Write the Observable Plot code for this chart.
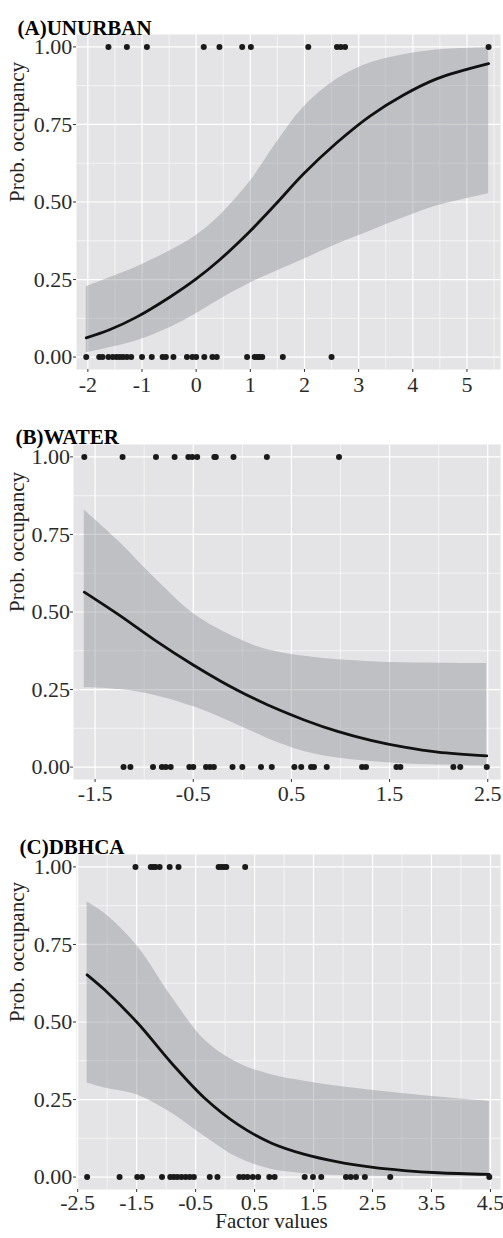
<!DOCTYPE html>
<html><head><meta charset="utf-8">
<script src="https://cdn.jsdelivr.net/npm/d3@7"></script>
<script src="https://cdn.jsdelivr.net/npm/@observablehq/plot@0.6"></script>
<style>
body{margin:0;background:#fff;}
#chart svg{display:block;}
</style></head><body><div id="chart"></div>
<script>
// ---- Panel A: UNURBAN ----
const A_x   = [-2.03, -1.60, -1.11, -0.49, 0.00, 0.43, 0.99, 1.48, 1.98, 2.59, 3.21, 3.83, 4.44, 5.40];
const A_fit = [0.062, 0.088, 0.128, 0.193, 0.252, 0.313, 0.405, 0.495, 0.590, 0.690, 0.777, 0.845, 0.897, 0.946];
const A_hi  = [0.227, 0.256, 0.290, 0.342, 0.392, 0.455, 0.565, 0.690, 0.805, 0.895, 0.948, 0.975, 0.990, 0.997];
const A_lo  = [0.014, 0.030, 0.052, 0.095, 0.140, 0.185, 0.238, 0.277, 0.315, 0.363, 0.406, 0.449, 0.487, 0.527];
const A_x1  = [-1.62, -1.28, -0.91, 0.14, 0.43, 0.85, 1.01, 2.07, 2.60, 2.67, 2.75, 5.40];
const A_x0  = [-2.03, -1.79, -1.73, -1.62, -1.54, -1.47, -1.41, -1.35, -1.28, -1.20, -1.00, -0.82, -0.62, -0.56, -0.42, -0.17, -0.07, 0.00, 0.15, 0.30, 0.38, 0.94, 1.08, 1.13, 1.17, 1.22, 1.60, 2.50];
const A_ticks = [-2, -1, 0, 1, 2, 3, 4, 5];
const A_minor = [-1.5, -0.5, 0.5, 1.5, 2.5, 3.5, 4.5, 5.5];

// ---- Panel B: WATER ----
const B_x   = [-1.61, -1.25, -0.90, -0.50, -0.22, -0.05, 0.12, 0.29, 0.63, 0.97, 1.31, 1.65, 1.99, 2.49];
const B_fit = [0.564, 0.489, 0.411, 0.329, 0.277, 0.248, 0.221, 0.196, 0.152, 0.115, 0.086, 0.064, 0.048, 0.036];
const B_hi  = [0.829, 0.725, 0.612, 0.495, 0.441, 0.415, 0.392, 0.376, 0.357, 0.346, 0.340, 0.336, 0.335, 0.334];
const B_lo  = [0.256, 0.250, 0.232, 0.195, 0.160, 0.136, 0.112, 0.088, 0.050, 0.029, 0.018, 0.011, 0.007, 0.004];
const B_x1  = [-1.61, -1.22, -0.88, -0.69, -0.55, -0.51, -0.46, -0.285, -0.27, -0.09, 0.25, 0.985];
const B_x0  = [-1.21, -1.14, -0.91, -0.82, -0.78, -0.73, -0.54, -0.50, -0.37, -0.33, -0.29, -0.10, 0.00, 0.19, 0.30, 0.53, 0.60, 0.70, 0.73, 0.86, 1.22, 1.26, 1.57, 1.61, 2.15, 2.22, 2.49];
const B_ticks = [-1.5, -0.5, 0.5, 1.5, 2.5];
const B_minor = [-1, 0, 1, 2];

// ---- Panel C: DBHCA ----
const C_x   = [-2.34, -2.04, -1.48, -0.91, -0.35, 0.22, 0.78, 1.35, 1.91, 2.48, 3.04, 3.61, 4.48];
const C_fit = [0.652, 0.603, 0.496, 0.368, 0.255, 0.169, 0.110, 0.073, 0.049, 0.032, 0.021, 0.014, 0.0086];
const C_hi  = [0.887, 0.850, 0.743, 0.582, 0.443, 0.368, 0.330, 0.309, 0.293, 0.280, 0.269, 0.258, 0.244];
const C_lo  = [0.303, 0.287, 0.264, 0.207, 0.132, 0.062, 0.025, 0.011, 0.005, 0.003, 0.002, 0.0015, 0.001];
const C_x1  = [-1.52, -1.26, -1.22, -1.18, -1.11, -0.94, -0.79, -0.11, -0.065, -0.02, 0.02, 0.34];
const C_x0  = [-2.34, -1.79, -1.49, -1.41, -1.07, -0.93, -0.87, -0.81, -0.74, -0.67, -0.60, -0.53, -0.26, -0.13, 0.24, 0.31, 0.38, 0.47, 0.56, 0.75, 0.84, 1.35, 1.49, 1.63, 2.05, 2.13, 2.22, 2.37, 2.80, 4.48];
const C_ticks = [-2.5, -1.5, -0.5, 0.5, 1.5, 2.5, 3.5, 4.5];
const C_minor = [-2, -1, 0, 1, 2, 3, 4];

const Y_ticks = [0, 0.25, 0.5, 0.75, 1];
const Y_minor = [0.125, 0.375, 0.625, 0.875];
const Y_label = "Prob. occupancy";
const X_label = "Factor values";

const FONT = "Liberation Serif";

function panel(cfg) {
  const fitData = cfg.x.map((x, i) => ({x, fit: cfg.fit[i], lo: cfg.lo[i], hi: cfg.hi[i]}));
  const pts = [...cfg.x0.map(x => ({x, y: 0})), ...cfg.x1.map(x => ({x, y: 1}))];
  const txt = {fontFamily: FONT, fontSize: 21};
  const tick = {fontFamily: FONT, fontSize: 22};
  const marks = [
    Plot.frame({fill: "#E4E4E6", stroke: null}),
    Plot.gridX(cfg.minor, {stroke: "white", strokeOpacity: 1, strokeWidth: 0.6}),
    Plot.gridY(Y_minor, {stroke: "white", strokeOpacity: 1, strokeWidth: 0.6}),
    Plot.gridX(cfg.ticks, {stroke: "white", strokeOpacity: 1, strokeWidth: 1.2}),
    Plot.gridY(Y_ticks, {stroke: "white", strokeOpacity: 1, strokeWidth: 1.2}),
    Plot.areaY(fitData, {x: "x", y1: "lo", y2: "hi", fill: "#888a8e", fillOpacity: 0.4, curve: "catmull-rom"}),
    Plot.line(fitData, {x: "x", y: "fit", stroke: "#111", strokeWidth: 2.8, curve: "catmull-rom"}),
    Plot.dot(pts, {x: "x", y: "y", r: 3, fill: "#1a1a1a", stroke: null}),
    Plot.axisX(cfg.ticks, {...tick, tickSize: 3, tickPadding: cfg.tpx, tickFormat: cfg.fmt, label: null, stroke: "#333", fill: "#2b2b2b"}),
    Plot.axisY(Y_ticks, {...tick, tickSize: 3, tickPadding: cfg.tpy, tickFormat: d => d.toFixed(2), label: null, stroke: "#333", fill: "#2b2b2b"}),
    Plot.text([cfg.title], {...txt, frameAnchor: "top-left", dx: cfg.titleX - cfg.ml, dy: cfg.titleDy, textAnchor: "start", fontWeight: "bold", fill: "black"}),
    Plot.text([Y_label], {...txt, frameAnchor: "left", dx: 17 - cfg.ml, rotate: -90, fill: "#222"})
  ];
  if (cfg.xlabel) {
    marks.push(Plot.text([cfg.xlabel], {...txt, frameAnchor: "bottom", dx: 271 - (cfg.ml + (503 - cfg.ml - cfg.mr) / 2), dy: 38, fill: "#222"}));
  }
  return Plot.plot({
    width: 503, height: cfg.height,
    marginLeft: cfg.ml, marginRight: cfg.mr, marginTop: cfg.mt, marginBottom: cfg.mb,
    style: {fontFamily: FONT, fontSize: "21px", background: "white", color: "#333", overflow: "visible"},
    x: {domain: cfg.domain},
    y: {domain: [-0.04, 1.04]},
    marks
  });
}

const chart = document.getElementById("chart");
chart.append(panel({
  title: "(A)UNURBAN", titleX: 17, titleDy: -14,
  x: A_x, fit: A_fit, lo: A_lo, hi: A_hi, x0: A_x0, x1: A_x1,
  ticks: A_ticks, minor: A_minor, fmt: d => String(d),
  domain: [-2.21, 5.62], height: 405, ml: 76, mr: 3, mt: 34, mb: 36, tpx: 4, tpy: 1.3
}));
chart.append(panel({
  title: "(B)WATER", titleX: 15, titleDy: -15.7,
  x: B_x, fit: B_fit, lo: B_lo, hi: B_hi, x0: B_x0, x1: B_x1,
  ticks: B_ticks, minor: B_minor, fmt: d => d.toFixed(1),
  domain: [-1.72, 2.63], height: 405, ml: 73, mr: 3, mt: 39, mb: 31, tpx: 3, tpy: 0.5
}));
chart.append(panel({
  title: "(C)DBHCA", titleX: 19, titleDy: -15.7,
  x: C_x, fit: C_fit, lo: C_lo, hi: C_hi, x0: C_x0, x1: C_x1,
  ticks: C_ticks, minor: C_minor, fmt: d => d.toFixed(1), xlabel: X_label,
  domain: [-2.52, 4.67], height: 428, ml: 76, mr: 3, mt: 44, mb: 49, tpx: 1.5, tpy: 1.3
}));
</script></body></html>
